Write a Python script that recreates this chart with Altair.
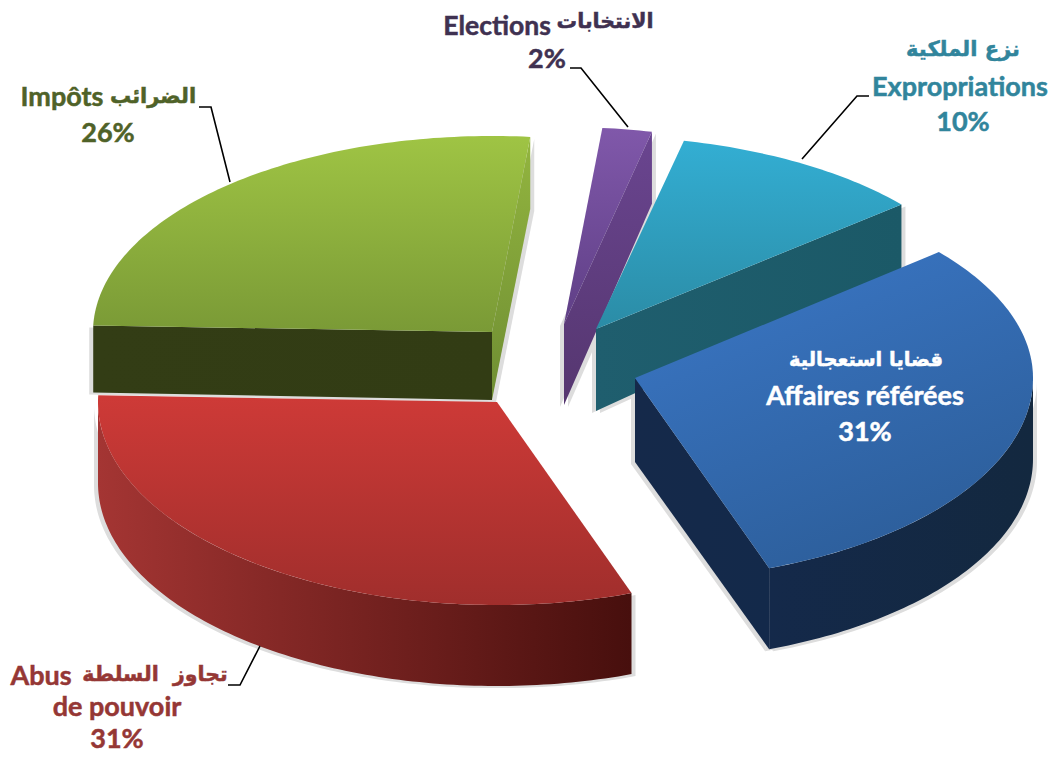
import math
import altair as alt

# ---- values
names_fr = ["Elections", "Expropriations", "Affaires référées", "Abus", "Impôts"]
names_ar = ["الانتخابات", "نزع الملكية", "قضايا استعجالية", "تجاوز\u00a0\u00a0السلطة", "الضرائب"]
shares = [2, 10.3, 30.7, 31, 26]

START_DEG = 5.5
M = 8  # page margin: geometry below is in picture pixels


def grad(c0, c1, x2=0, y2=1):
    return {"gradient": "linear", "x1": 0, "y1": 0, "x2": x2, "y2": y2,
            "stops": [{"offset": 0, "color": c0}, {"offset": 1, "color": c1}]}


slices = {
    "Elections": dict(c=(564, 324), a=400, bb=197, bf=197, da=81, dr=72,
                      top=grad("#8058AA", "#5F3F86"), wallf=grad("#6A4590", "#55366F", 0, 1)),
    "Expropriations": dict(c=(596, 329), a=400, bb=193, bf=193, da=82, dr=67,
                           top=grad("#33AED3", "#2B8CA6"), wallf=grad("#1F5E6E", "#1B5967", 1, 0)),
    "Affaires référées": dict(c=(635, 378), a=398, bb=195, bf=202, da=84, dr=81,
                              top=grad("#3B78C8", "#2D5F9C", 0.5, 1), wallf=grad("#15294A", "#13294A", 1, 0),
                              rim=grad("#14294A", "#13283F", 1, 0)),
    "Abus": dict(c=(497, 402), a=399, bb=202, bf=203, da=81, dr=81,
                 top=grad("#CE3A37", "#A02E2C"), rim=grad("#A43533", "#470F0D", 1, 0)),
    "Impôts": dict(c=(492, 332), a=399, bb=196, bf=196, da=68, dr=67,
                   top=grad("#9FC444", "#7A9A36"), wallf=grad("#93B53F", "#6F8E33"),
                   startwall=grad("#333D15", "#323C14", 1, 0)),
}
SHADOW = "#DDDDDD"


def pt(s, deg, drop=0):
    t = math.radians(deg)
    b = s["bb"] if math.cos(t) > 0 else s["bf"]
    return (s["c"][0] + s["a"] * math.sin(t) - M, s["c"][1] - b * math.cos(t) + drop - M)


def shape(points, fill, dx=0, dy=0):
    ring = [[p[0] + dx, p[1] + dy] for p in points]
    ring.append(ring[0])
    feature = {"type": "Feature", "properties": {}, "geometry": {"type": "Polygon", "coordinates": [ring]}}
    return alt.Chart(alt.InlineData(values=[feature])).mark_geoshape(fill=fill, strokeOpacity=0, filled=True)


def line(points):
    feature = {"type": "Feature", "properties": {},
               "geometry": {"type": "LineString", "coordinates": [[x - M, y - M] for x, y in points]}}
    return alt.Chart(alt.InlineData(values=[feature])).mark_geoshape(
        filled=False, stroke="#000000", strokeWidth=1.6, fillOpacity=0)


bounds = {}
angle = START_DEG
for name, v in zip(names_fr, shares):
    bounds[name] = (angle, angle + 3.6 * v)
    angle += 3.6 * v


def arc(s, d0, d1, drop=0):
    n = max(2, int(abs(d1 - d0)) + 1)
    return [pt(s, d0 + (d1 - d0) * i / n, drop) for i in range(n + 1)]


shadows, layers = [], []
for name in ["Impôts", "Elections", "Expropriations", "Affaires référées", "Abus"]:
    s = slices[name]
    t0, t1 = bounds[name]
    apex = (s["c"][0] - M, s["c"][1] - M)
    apex_low = (apex[0], apex[1] + s["da"])
    walls = []
    if name == "Impôts":
        walls.append(([apex, pt(s, t1), pt(s, t1, 72), apex_low], s["wallf"]))
        walls.append(([apex, apex_low, pt(s, t0, s["dr"]), pt(s, t0)], s["startwall"]))
    elif name != "Abus":
        walls.append(([apex, pt(s, t1), pt(s, t1, s["dr"]), apex_low], s["wallf"]))
    if "rim" in s:
        lo, hi = max(t0, 90), min(t1, 270)
        walls.append((arc(s, lo, hi) + arc(s, hi, lo, s["dr"]), s["rim"]))
    for poly, fill in walls:
        layers.append(shape(poly, fill))
        shadows.append(shape(poly, SHADOW, 4, 2))
        shadows.append(shape(poly, SHADOW, -4, 2))
    layers.append(shape([apex] + arc(s, t0, t1), s["top"]))

layers = shadows + layers

# leader lines
layers += [
    line([(570, 68), (581, 68), (628, 127)]),
    line([(869, 96), (857, 96), (802, 159)]),
    line([(199, 107), (211, 107), (230, 182)]),
    line([(228, 685), (240, 685), (260, 646)]),
]

LATIN = "Lato, 'Open Sans', sans-serif"
ARABIC = "'DejaVu Sans', sans-serif"


def text(s, x, y, color, size=27, font=LATIN, align="center"):
    return alt.Chart(alt.InlineData(values=[{"t": s}])).mark_text(
        text=s, font=font, fontSize=size, fontWeight="bold", color=color, align=align, baseline="middle",
        stroke=color, strokeWidth=0.5
    ).encode(x=alt.value(x - M), y=alt.value(y - M))


pct = {n: f"{round(v)}%" for n, v in zip(names_fr, shares)}
ar = dict(zip(names_fr, names_ar))
C_E, C_X, C_W, C_A, C_I = "#3F3151", "#31859C", "#FFFFFF", "#953735", "#4F6228"

layers += [
    text(ar["Elections"], 605, 22, C_E, 20.5, ARABIC),
    text("Elections", 497, 26.5, C_E, 26.5),
    text(pct["Elections"], 547, 60, C_E),
    text(ar["Expropriations"], 963, 50, C_X, 21, ARABIC),
    text("Expropriations", 960, 88, C_X),
    text(pct["Expropriations"], 963, 123, C_X),
    text(ar["Affaires référées"], 866, 360, C_W, 19.5, ARABIC),
    text("Affaires référées", 865, 397, C_W, 27),
    text(pct["Affaires référées"], 865, 433, C_W),
    text(ar["Impôts"], 153, 97, C_I, 21, ARABIC),
    text("Impôts", 62, 98, C_I),
    text(pct["Impôts"], 108, 134, C_I),
    text(ar["Abus"], 155, 675, C_A, 20.5, ARABIC),
    text("Abus", 41, 677, C_A),
    text("de pouvoir", 117, 708, C_A),
    text(pct["Abus"], 117, 740, C_A),
]

chart = alt.layer(*layers).project(type="identity", scale=1, translate=[0, 0]).properties(
    width=1042, height=746, padding=0, autosize="none", background="#FFFFFF"
).configure_view(stroke=None)

chart.save("out.html", embed_options={"renderer": "svg", "actions": False})
